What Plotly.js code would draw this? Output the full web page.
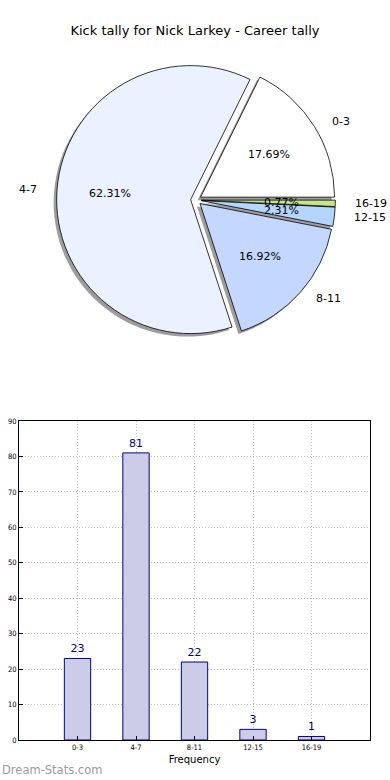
<!DOCTYPE html>
<html><head><meta charset="utf-8">
<script src="https://cdn.plot.ly/plotly-3.0.1.min.js"></script>
<style>html,body{margin:0;padding:0;background:#fff}#chart{width:390px;height:780px}</style>
</head><body><div id="chart"></div>
<script>
// ---- data ----
const categories = ['0-3', '4-7', '8-11', '12-15', '16-19'];
const counts = [23, 81, 22, 3, 1];
const pieColors = ['#ffffff', '#ebf1ff', '#c4d8ff', '#b3d5ff', '#c6e586'];
const chartTitle = 'Kick tally for Nick Larkey - Career tally';
const yTicks = [0, 10, 20, 30, 40, 50, 60, 70, 80, 90];
const xTitle = 'Frequency';
const watermark = 'Dream-Stats.com';

// ---- layout geometry ----
const W = 390, H = 780;
const CX = 196, CY = 200, R = 134, PULL = 0.04;
const half = R * (1 + PULL);
const SH = 3;
const dom = {x: [(CX - half) / W, (CX + half) / W], y: [(H - CY - half) / H, (H - CY + half) / H]};
const domShadow = {x: [(CX - SH - half) / W, (CX - SH + half) / W], y: [(H - CY - SH - half) / H, (H - CY - SH + half) / H]};
const FONT = 'DejaVu Sans, Bitstream Vera Sans, sans-serif';

const total = counts.reduce((a, b) => a + b, 0);
const pulls = counts.map(() => PULL);
// first slice must start at 3 o'clock and run counterclockwise
const rot = 90 - counts[0] / total * 360;

const shadow = {
  type: 'pie', labels: categories, values: counts, sort: false, direction: 'counterclockwise',
  rotation: rot, pull: pulls, domain: domShadow, textinfo: 'none', hoverinfo: 'skip',
  marker: {colors: counts.map(() => 'rgba(60,60,60,0.5)'), line: {width: 0}}, showlegend: false
};
const pie = {
  type: 'pie', labels: categories, values: counts, sort: false, direction: 'counterclockwise',
  rotation: rot, pull: pulls, domain: dom, textinfo: 'none',
  marker: {colors: pieColors, line: {color: '#000000', width: 0.8}}, showlegend: false
};

// annotations for pie labels/percentages computed from data angles
const annotations = [];
let cum = 0;
const RX = 138, RY = 130;
counts.forEach((v, i) => {
  const a0 = cum / total * 2 * Math.PI;
  cum += v;
  const a1 = cum / total * 2 * Math.PI;
  const m = (a0 + a1) / 2;
  const c = Math.cos(m), s = Math.sin(m);
  const ox = CX + PULL * R * c, oy = CY - PULL * R * s;
  const px = ox + 0.6 * R * c, py = oy - 0.6 * R * s;
  annotations.push({xref: 'paper', yref: 'paper', x: px / W, y: 1 - py / H, xanchor: 'center', yanchor: 'middle',
    text: (v / total * 100).toFixed(2) + '%', showarrow: false, font: {family: FONT, size: 11, color: '#000'}});
  const lx = ox + 1.1 * RX * c, ly = oy - 1.1 * RY * s;
  annotations.push({xref: 'paper', yref: 'paper', x: lx / W, y: 1 - ly / H, xanchor: c >= 0 ? 'left' : 'right', yanchor: 'middle',
    text: categories[i], showarrow: false, font: {family: FONT, size: 11, color: '#000'}});
});
annotations.push({xref: 'paper', yref: 'paper', x: 0, y: 1 - 770 / H, xanchor: 'left', yanchor: 'middle',
  text: watermark, showarrow: false, font: {family: FONT, size: 11.5, color: '#9a9a9a'}});

const bar = {
  type: 'bar', x: categories, y: counts, xaxis: 'x', yaxis: 'y', width: 0.45,
  marker: {color: '#ccccE6', line: {color: '#000080', width: 1}},
  text: counts.map(String), textposition: 'outside', cliponaxis: false,
  textfont: {family: FONT, size: 11, color: '#000080'}, showlegend: false, hoverinfo: 'x+y'
};

const axisCommon = {
  showline: true, linecolor: '#000', linewidth: 1, mirror: true,
  showgrid: true, gridcolor: '#bdbdbd', griddash: '1px,2px', gridwidth: 1,
  ticks: 'inside', ticklen: 4, tickcolor: '#000', zeroline: false,
  tickfont: {family: 'DejaVu Sans Condensed, DejaVu Sans, sans-serif', size: 7.5, color: '#000'}
};

const layout = {
  width: W, height: H, margin: {l: 0, r: 0, t: 0, b: 0},
  paper_bgcolor: '#fff', plot_bgcolor: '#fff',
  font: {family: FONT},
  title: {text: chartTitle, x: 0.5, xanchor: 'center', y: 1 - 30 / H, yanchor: 'middle', font: {family: FONT, size: 13, color: '#000'}},
  xaxis: Object.assign({}, axisCommon, {domain: [19 / W, 370 / W], anchor: 'y', type: 'category', range: [-1, 5],
    title: {text: xTitle, font: {family: FONT, size: 10, color: '#000'}, standoff: 4}}),
  yaxis: Object.assign({}, axisCommon, {domain: [40 / H, 359 / H], anchor: 'x', range: [0, 90], tickvals: yTicks}),
  annotations: annotations,
  bargap: 0
};

Plotly.newPlot('chart', [shadow, pie, bar], layout, {displayModeBar: false, staticPlot: true});
</script></body></html>
